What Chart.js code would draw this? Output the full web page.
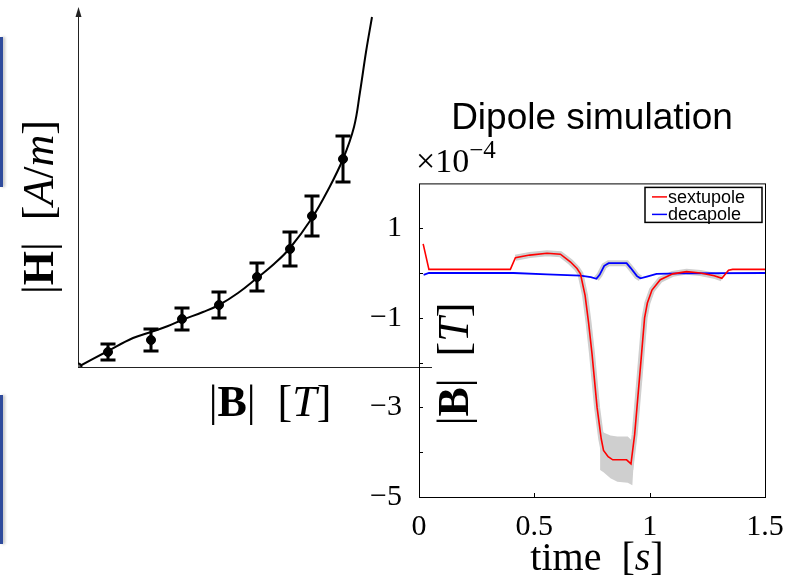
<!DOCTYPE html>
<html>
<head>
<meta charset="utf-8">
<script src="https://cdn.jsdelivr.net/npm/chart.js@4"></script>
<style>
  html, body { margin: 0; padding: 0; background: #fff; }
  body { width: 790px; height: 587px; position: relative; overflow: hidden; }
  canvas { position: absolute; }
  #fieldChart { left: 0; top: 0; }
  #dipoleChart { left: 360px; top: 90px; }
  .slideBar { position: absolute; left: 0; width: 3px; background: #2f4b9c; box-shadow: 2px 0 3px rgba(0,0,0,0.25); }
</style>
</head>
<body>
<div class="slideBar" style="top:37px;height:150px"></div>
<div class="slideBar" style="top:395px;height:149px"></div>
<canvas id="fieldChart" width="440" height="440"></canvas>
<canvas id="dipoleChart" width="430" height="497"></canvas>
<script>
// ---- left sketch: |H| against |B| (arbitrary units, no ticks) ----
const fieldB   = [0.30, 0.73, 1.04, 1.41, 1.79, 2.12, 2.34, 2.65];
const fieldH   = [0.15, 0.27, 0.48, 0.62, 0.90, 1.18, 1.51, 2.08];
const fieldErr = [0.08, 0.11, 0.11, 0.13, 0.14, 0.17, 0.20, 0.23];
const curveB = [0, 0.30, 0.55, 0.73, 0.90, 1.04, 1.25, 1.41, 1.60, 1.79, 1.96, 2.12, 2.34, 2.50, 2.65, 2.76, 2.82, 2.88, 2.94];
const curveH = [0, 0.16, 0.29, 0.35, 0.41, 0.47, 0.55, 0.62, 0.74, 0.89, 1.03, 1.19, 1.49, 1.77, 2.08, 2.40, 2.75, 3.15, 3.50];

// ---- right chart: dipole simulation (values x 1e-4 T) ----
const sextT = [0.018, 0.043, 0.396, 0.418, 0.48, 0.555, 0.613, 0.656, 0.685, 0.70, 0.72, 0.735, 0.75, 0.772, 0.79, 0.80, 0.82, 0.84, 0.90, 0.919, 0.935, 0.945, 0.96, 0.978, 0.99, 1.01, 1.046, 1.10, 1.16, 1.22, 1.28, 1.313, 1.342, 1.36, 1.50];
const sextV = [0.65, 0.08, 0.08, 0.34, 0.40, 0.44, 0.42, 0.25, 0.10, -0.02, -0.5, -1.1, -1.8, -3.0, -3.7, -3.96, -4.1, -4.17, -4.17, -4.26, -3.6, -3.0, -2.1, -1.0, -0.67, -0.38, -0.15, -0.02, 0.03, 0.0, -0.06, -0.12, 0.06, 0.08, 0.08];
const decaT = [0.02, 0.043, 0.41, 0.555, 0.70, 0.745, 0.769, 0.783, 0.803, 0.822, 0.90, 0.918, 0.945, 0.96, 0.988, 1.03, 1.13, 1.50];
const decaV = [-0.04, 0.0, 0.0, -0.03, -0.06, -0.09, -0.13, -0.04, 0.16, 0.22, 0.22, 0.11, -0.07, -0.12, -0.08, -0.02, -0.01, 0.0];
const bandT  = [0.785, 0.80, 0.83, 0.86, 0.905, 0.925, 0.94];
const bandHi = [-3.45, -3.56, -3.63, -3.65, -3.65, -3.75, -3.3];
const bandLo = [-4.40, -4.45, -4.58, -4.66, -4.68, -4.74, -3.4];
const xTicks = [0, 0.5, 1, 1.5];
const yTickLabels = [-5, -3, -1, 1];
const yTickMarks = [-4, -3, -2, -1, 0, 1];
const xTickMarks = [0.5, 1];

const SERIF = '"Liberation Serif", "DejaVu Serif", serif';
const SANS = '"Liberation Sans", Arial, sans-serif';

function pts(xs, ys) {
    return xs.map((x, i) => ({ x: x, y: ys[i] }));
}

// draw a label made of pieces in different fonts (bold / italic maths)
function richText(ctx, parts, x, y, rot) {
    ctx.save();
    ctx.translate(x, y);
    if (rot) ctx.rotate(rot);
    let w = 0;
    parts.forEach(p => { ctx.font = p[1]; w += ctx.measureText(p[0]).width; });
    let cx = -w / 2;
    ctx.fillStyle = '#000';
    ctx.textAlign = 'left';
    ctx.textBaseline = 'alphabetic';
    parts.forEach(p => {
        ctx.font = p[1];
        ctx.fillText(p[0], cx, 0);
        cx += ctx.measureText(p[0]).width;
    });
    ctx.restore();
}

document.addEventListener('DOMContentLoaded', function() {

    // Left sketch
    const sketchDecor = {
        id: 'sketchDecor',
        beforeDatasetsDraw(chart) {
            const ctx = chart.ctx, a = chart.chartArea;
            ctx.save();
            ctx.strokeStyle = '#222';
            ctx.lineWidth = 1;
            ctx.beginPath();
            ctx.moveTo(a.left, a.bottom + 0.5);
            ctx.lineTo(a.right, a.bottom + 0.5);
            ctx.moveTo(a.left + 0.5, a.bottom);
            ctx.lineTo(a.left + 0.5, a.top);
            ctx.stroke();
            // arrow head on the H axis
            ctx.fillStyle = '#222';
            ctx.beginPath();
            ctx.moveTo(a.left + 0.5, a.top - 5);
            ctx.lineTo(a.left - 2.5, a.top + 5);
            ctx.lineTo(a.left + 3.5, a.top + 5);
            ctx.closePath();
            ctx.fill();

            // error bars
            const xs = chart.scales.x, ys = chart.scales.y;
            ctx.strokeStyle = '#000';
            ctx.lineWidth = 3;
            fieldB.forEach((b, i) => {
                const px = xs.getPixelForValue(b);
                const hi = ys.getPixelForValue(fieldH[i] + fieldErr[i]);
                const lo = ys.getPixelForValue(fieldH[i] - fieldErr[i]);
                ctx.beginPath();
                ctx.moveTo(px, hi); ctx.lineTo(px, lo);
                ctx.moveTo(px - 7.5, hi); ctx.lineTo(px + 7.5, hi);
                ctx.moveTo(px - 7.5, lo); ctx.lineTo(px + 7.5, lo);
                ctx.stroke();
            });
            ctx.restore();
        },
        afterDraw(chart) {
            const ctx = chart.ctx;
            richText(ctx, [['|', '44px ' + SERIF], ['B', 'bold 44px ' + SERIF], ['|  [', '44px ' + SERIF], ['T', 'italic 44px ' + SERIF], [']', '44px ' + SERIF]], 270, 416);
            richText(ctx, [['|', '44px ' + SERIF], ['H', 'bold 44px ' + SERIF], ['|  [', '44px ' + SERIF], ['A', 'italic 44px ' + SERIF], ['/', '44px ' + SERIF], ['m', 'italic 44px ' + SERIF], [']', '44px ' + SERIF]], 53, 207, -Math.PI / 2);
        }
    };

    const fieldCtx = document.getElementById('fieldChart').getContext('2d');
    const fieldChart = new Chart(fieldCtx, {
        type: 'scatter',
        data: {
            datasets: [{
                label: 'measurements',
                data: pts(fieldB, fieldH),
                backgroundColor: '#000',
                borderColor: '#000',
                pointRadius: 4.5
            }, {
                label: 'origin',
                data: [{ x: 0, y: 0 }],
                backgroundColor: '#666',
                borderColor: '#000',
                borderWidth: 2,
                pointRadius: 3.5
            }, {
                label: 'fit',
                data: pts(curveB, curveH),
                showLine: true,
                borderColor: '#000',
                borderWidth: 2,
                pointRadius: 0,
                tension: 0.4
            }]
        },
        options: {
            responsive: false,
            animation: false,
            layout: { padding: { left: 78, top: 12, right: 8, bottom: 73 } },
            plugins: { legend: { display: false }, tooltip: { enabled: false } },
            scales: {
                x: { display: false, min: 0, max: 3.54 },
                y: { display: false, min: 0, max: 3.55 }
            }
        },
        plugins: [sketchDecor]
    });

    // Right chart
    const dipoleDecor = {
        id: 'dipoleDecor',
        afterDatasetsDraw(chart) {
            const ctx = chart.ctx, a = chart.chartArea;
            const xs = chart.scales.x, ys = chart.scales.y;
            ctx.save();
            ctx.strokeStyle = '#000';
            ctx.lineWidth = 1;
            ctx.strokeRect(a.left + 0.5, a.top + 0.5, a.right - a.left, a.bottom - a.top);
            ctx.beginPath();
            yTickMarks.forEach(v => {
                const py = Math.round(ys.getPixelForValue(v)) + 0.5;
                ctx.moveTo(a.left, py); ctx.lineTo(a.left + 4, py);
            });
            xTickMarks.forEach(v => {
                const px = Math.round(xs.getPixelForValue(v)) + 0.5;
                ctx.moveTo(px, a.bottom); ctx.lineTo(px, a.bottom - 4);
            });
            ctx.stroke();

            // legend box
            const bx = a.right - 120, by = a.top + 4, bw = 117, bh = 35;
            ctx.fillStyle = '#fff';
            ctx.fillRect(bx, by, bw, bh);
            ctx.lineWidth = 1.5;
            ctx.strokeRect(bx, by, bw, bh);
            ctx.font = '18px ' + SANS;
            ctx.textBaseline = 'middle';
            ctx.textAlign = 'left';
            [0, 1].forEach((di, row) => {
                const ds = chart.data.datasets[di];
                const cy = by + 9.5 + row * 17.5;
                ctx.strokeStyle = ds.borderColor;
                ctx.lineWidth = 1.5;
                ctx.beginPath();
                ctx.moveTo(bx + 7, cy); ctx.lineTo(bx + 22, cy);
                ctx.stroke();
                ctx.fillStyle = '#000';
                ctx.fillText(ds.label, bx + 23, cy + 1);
            });
            ctx.restore();
        },
        afterDraw(chart) {
            const ctx = chart.ctx;
            // exponent above the axis
            ctx.save();
            ctx.fillStyle = '#000';
            ctx.textBaseline = 'alphabetic';
            ctx.font = '34px ' + SERIF;
            ctx.fillText('\u00d710', 56, 82);
            const w = ctx.measureText('\u00d710').width;
            ctx.font = '25px ' + SERIF;
            ctx.fillText('\u22124', 56 + w, 68);
            ctx.restore();
            richText(ctx, [['time  [', '40px ' + SERIF], ['s', 'italic 40px ' + SERIF], [']', '40px ' + SERIF]], 237, 480);
            richText(ctx, [['|', '44px ' + SERIF], ['B', 'bold 44px ' + SERIF], ['|  [', '44px ' + SERIF], ['T', 'italic 44px ' + SERIF], [']', '44px ' + SERIF]], 108, 274, -Math.PI / 2);
        }
    };

    const dipoleCtx = document.getElementById('dipoleChart').getContext('2d');
    const dipoleChart = new Chart(dipoleCtx, {
        type: 'scatter',
        data: {
            datasets: [{
                label: 'sextupole',
                data: pts(sextT, sextV),
                showLine: true,
                borderColor: '#ff0000',
                borderWidth: 1.6,
                pointRadius: 0
            }, {
                label: 'decapole',
                data: pts(decaT, decaV),
                showLine: true,
                borderColor: '#0000ff',
                borderWidth: 1.8,
                pointRadius: 0
            }, {
                label: 'band high',
                data: pts(bandT, bandHi),
                showLine: true,
                borderWidth: 0,
                borderColor: 'rgba(0,0,0,0)',
                pointRadius: 0
            }, {
                label: 'band low',
                data: pts(bandT, bandLo),
                showLine: true,
                borderWidth: 0,
                borderColor: 'rgba(0,0,0,0)',
                backgroundColor: '#cfcfcf',
                fill: '-1',
                pointRadius: 0
            }, {
                label: 'sextupole spread',
                data: pts(sextT, sextV).filter(p => p.x >= 0.41 && p.x <= 1.32),
                showLine: true,
                borderColor: '#cfcfcf',
                borderWidth: 6,
                pointRadius: 0
            }, {
                label: 'decapole spread',
                data: pts(decaT, decaV).filter(p => p.x >= 0.76 && p.x <= 0.97),
                showLine: true,
                borderColor: '#cfcfcf',
                borderWidth: 6,
                pointRadius: 0
            }]
        },
        options: {
            responsive: false,
            animation: false,
            layout: { padding: { left: 0, right: 25, top: 0, bottom: 0 } },
            plugins: {
                legend: { display: false },
                tooltip: { enabled: false },
                title: {
                    display: true,
                    text: 'Dipole simulation',
                    fullSize: false,
                    color: '#000',
                    font: { family: SANS, size: 37, weight: 'normal' },
                    padding: { top: 7, bottom: 42 }
                }
            },
            scales: {
                x: {
                    type: 'linear',
                    min: 0,
                    max: 1.5,
                    grid: { display: false },
                    border: { display: false },
                    afterBuildTicks: s => { s.ticks = xTicks.map(v => ({ value: v })); },
                    afterFit: s => { s.height = 90; },
                    ticks: {
                        color: '#000',
                        padding: 4,
                        maxRotation: 0,
                        font: { family: SERIF, size: 30 },
                        callback: v => String(v)
                    }
                },
                y: {
                    min: -5,
                    max: 2,
                    grid: { display: false },
                    border: { display: false },
                    afterBuildTicks: s => { s.ticks = yTickLabels.map(v => ({ value: v })); },
                    afterFit: s => { s.width = 59; },
                    ticks: {
                        color: '#000',
                        padding: 9,
                        font: { family: SERIF, size: 30 },
                        callback: v => (v < 0 ? '\u2212' + Math.abs(v) : String(v))
                    }
                }
            }
        },
        plugins: [dipoleDecor]
    });
});
</script>
</body>
</html>
